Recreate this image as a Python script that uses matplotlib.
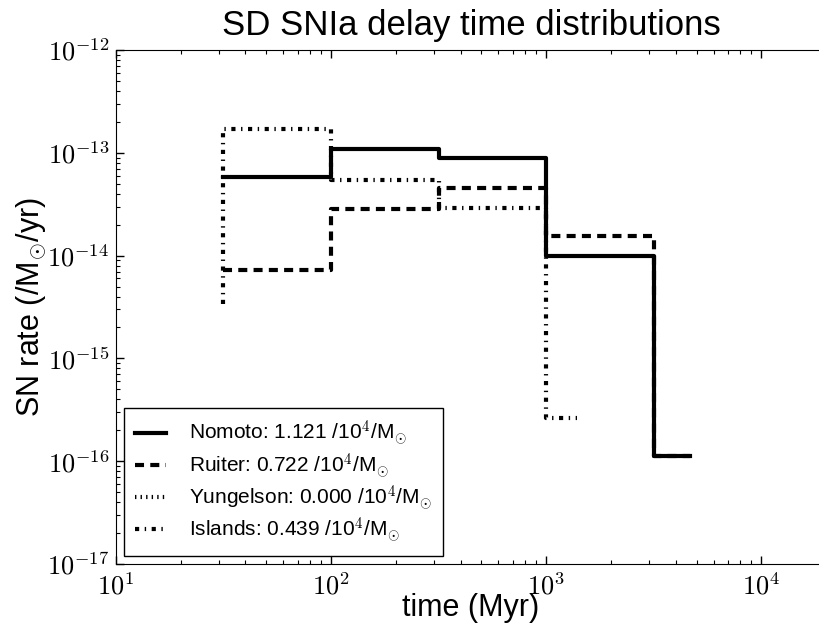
import numpy as np
import matplotlib
matplotlib.use("Agg")
import matplotlib.pyplot as plt
from matplotlib.ticker import FuncFormatter, LogLocator, FixedLocator

plt.rcParams['font.family'] = ['Liberation Sans', 'DejaVu Sans']
plt.rcParams['mathtext.fontset'] = 'cm'
plt.rcParams['lines.scale_dashes'] = False

# Data (time bin edges in Myr, SN rate per Msun per yr), drawn with steps-pre
nomoto_t = [31.6, 100, 316, 1000, 3162, 4680]
nomoto_r = [5.86e-14, 5.86e-14, 1.10e-13, 8.97e-14, 1.0e-14, 1.13e-16]

ruiter_t = [31.6, 100, 316, 1000, 3162, 4680]
ruiter_r = [7.24e-15, 7.24e-15, 2.84e-14, 4.58e-14, 1.55e-14, 1.13e-16]

yungelson_t = [31.6, 100, 316, 1000, 3162, 4680]
yungelson_r = [0.0, 0.0, 0.0, 0.0, 0.0, 0.0]

islands_t = [31.6, 100, 316, 1000, 1390]
islands_r = [3.38e-15, 1.69e-13, 5.43e-14, 2.92e-14, 2.61e-16]

x_ticks = [1e1, 1e2, 1e3, 1e4]
y_ticks = [1e-17, 1e-16, 1e-15, 1e-14, 1e-13, 1e-12]

labels = [r"Nomoto: 1.121 /10$^{4}$/M$_{\odot}$",
          r"Ruiter: 0.722 /10$^{4}$/M$_{\odot}$",
          r"Yungelson: 0.000 /10$^{4}$/M$_{\odot}$",
          r"Islands: 0.439 /10$^{4}$/M$_{\odot}$"]

fig = plt.figure(figsize=(8.2, 6.25), dpi=100)
ax = fig.add_axes([116/820, 61/625, 710/820, 514/625])
ax.set_xscale('log')
ax.set_yscale('log', nonpositive='mask')

lw = 3
ax.plot(nomoto_t, nomoto_r, drawstyle='steps-pre', color='black', lw=lw,
        linestyle='-', label=labels[0])
ax.plot(ruiter_t, ruiter_r, drawstyle='steps-pre', color='black', lw=lw,
        linestyle=(0, (6.5, 4.5)), label=labels[1], dash_capstyle='butt')
yr = np.ma.masked_less_equal(np.array(yungelson_r), 0)
ax.plot(yungelson_t, yr, drawstyle='steps-pre', color='black', lw=lw,
        linestyle=(0, (1, 3)), label=labels[2], dash_capstyle='butt')
ax.plot(islands_t, islands_r, drawstyle='steps-pre', color='black', lw=lw,
        linestyle=(0, (3, 4, 1, 4)), label=labels[3], dash_capstyle='butt')

ax.set_xlim(10, 2e4)
ax.set_ylim(1e-17, 1e-12)

fmt = FuncFormatter(lambda v, p: r"$10^{%d}$" % int(round(np.log10(v))))
ax.xaxis.set_major_locator(FixedLocator(x_ticks))
ax.yaxis.set_major_locator(FixedLocator(y_ticks))
ax.xaxis.set_minor_locator(LogLocator(base=10, subs=np.arange(2, 10), numticks=20))
ax.yaxis.set_minor_locator(LogLocator(base=10, subs=np.arange(2, 10), numticks=20))
ax.xaxis.set_major_formatter(fmt)
ax.yaxis.set_major_formatter(fmt)
ax.tick_params(which='both', direction='in', top=True, right=False, labelsize=19)
ax.tick_params(which='major', length=5.5, width=1)
ax.tick_params(which='minor', length=2.8, width=0.8)
ax.tick_params(axis='x', which='major', pad=6)
ax.tick_params(axis='y', which='major', pad=5)

ax.set_xlabel("time (Myr)", fontsize=22, labelpad=-4)
ax.set_ylabel(r"SN rate (/M$_{\odot}$/yr)", fontsize=22, labelpad=-1)
ax.set_title("SD SNIa delay time distributions", fontsize=25, pad=11)

leg = ax.legend(loc='lower left', fontsize=15, handlelength=1.5, handletextpad=1.1,
                borderpad=0.5, borderaxespad=0.4, labelspacing=0.12, fancybox=False,
                framealpha=1, edgecolor='black')
leg.get_frame().set_linewidth(1)

fig.savefig("out.png", dpi=100)
